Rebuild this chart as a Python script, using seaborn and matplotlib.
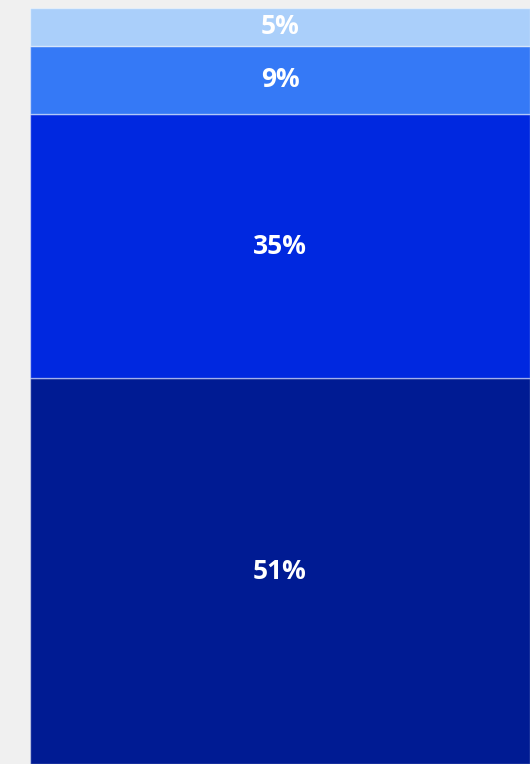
import matplotlib.pyplot as plt
import pandas as pd
import seaborn as sns

sns.set_style('white')
plt.rcParams['font.family'] = ['Open Sans', 'DejaVu Sans']

segments = ['51%', '35%', '9%', '5%']
shares = [51, 35, 9, 5]
colors = ['#001b93', '#0028e0', '#3579f6', '#aacffa']

fig = plt.figure(figsize=(5.30, 7.64), dpi=100, facecolor='#f0f0f0')
ax = fig.add_axes([30 / 530, 0, 1 - 30 / 530, 756 / 764])

bottom = 0
for seg, val, col in zip(segments, shares, colors):
    df = pd.DataFrame({'bar': ['all'], 'share': [val]})
    sns.barplot(data=df, x='bar', y='share', bottom=bottom, color=col,
                width=1.0, ax=ax, saturation=1,
                edgecolor=(1, 1, 1, 0.45), linewidth=1)
    ax.text(0, bottom + val / 2, f'{val}%', ha='center', va='center',
            color='white', fontsize=19, fontweight='bold')
    bottom += val

ax.set_xlim(-0.5, 0.5)
ax.set_ylim(0, 100)
ax.axis('off')

plt.savefig('out.png', dpi=100, facecolor=fig.get_facecolor())
